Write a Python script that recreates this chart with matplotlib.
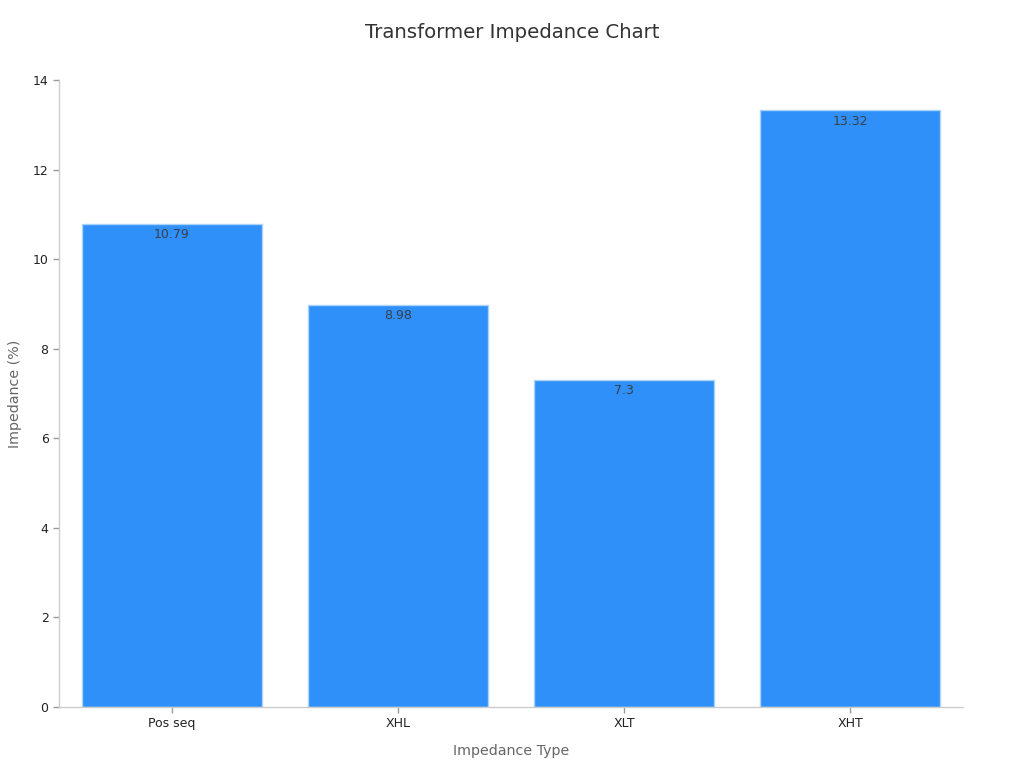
import matplotlib
matplotlib.use("Agg")
import matplotlib.pyplot as plt

categories = ["Pos seq", "XHL", "XLT", "XHT"]
values = [10.79, 8.98, 7.3, 13.32]
value_labels = ["10.79", "8.98", "7.3", "13.32"]
yticks = [0, 2, 4, 6, 8, 10, 12, 14]

fig = plt.figure(figsize=(10.24, 7.68), dpi=100)
ax = fig.add_axes([59/1024, 1 - 707/768, (963-59)/1024, (707-80)/768])

x = list(range(len(categories)))
bars = ax.bar(x, values, width=0.8, color="#2E90F8", edgecolor="#A9D3FB", linewidth=1)
for xi, v, lab in zip(x, values, value_labels):
    ax.annotate(lab, (xi, v), xytext=(0, -3), textcoords="offset points",
                ha="center", va="top", fontsize=9, color="#3a3f4a")

ax.set_xlim(-0.5, 3.5)
ax.set_ylim(0, 14)
ax.set_yticks(yticks)
ax.set_xticks(x)
ax.set_xticklabels(categories)
ax.tick_params(axis="both", labelsize=9, colors="#222222", length=4, width=1)
ax.tick_params(axis="both", color="#999999")
for s in ["top", "right"]:
    ax.spines[s].set_visible(False)
for s in ["left", "bottom"]:
    ax.spines[s].set_color("#cccccc")
    ax.spines[s].set_linewidth(1)

ax.set_xlabel("Impedance Type", fontsize=10.3, color="#666666", labelpad=10)
ax.set_ylabel("Impedance (%)", fontsize=10.3, color="#666666", labelpad=8)
fig.text(0.5, 1 - 33/768, "Transformer Impedance Chart", ha="center", va="center",
         fontsize=14.2, color="#333333")

fig.savefig("out.png", dpi=100)
